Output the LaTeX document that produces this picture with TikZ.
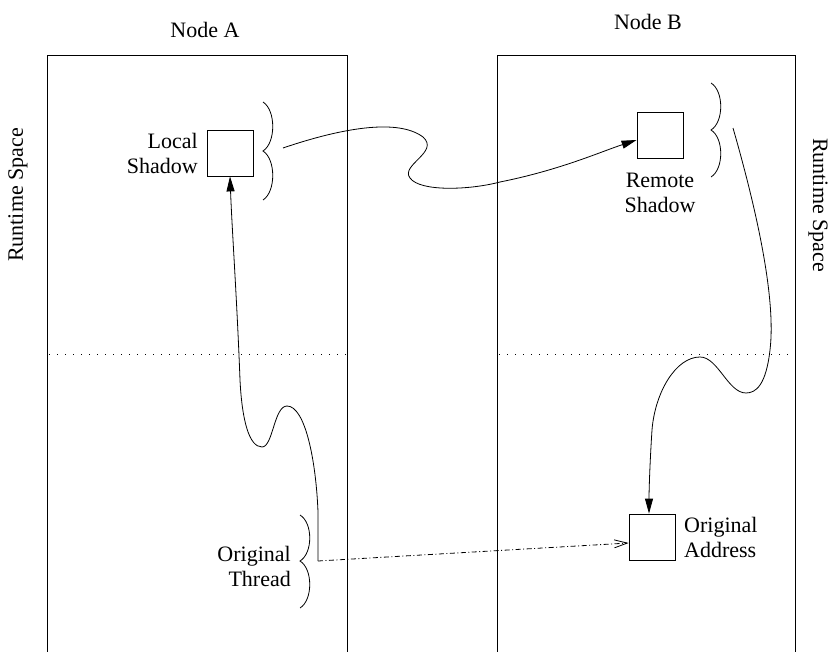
\documentclass[tikz,border=0pt]{standalone}
\usepackage{fontspec}
\setmainfont{Liberation Serif}
\usetikzlibrary{arrows.meta}
\begin{document}
\begin{tikzpicture}[x=1pt,y=-1pt,
  every node/.style={font=\rmfamily\fontsize{22}{25}\selectfont},
  frame/.style={line width=0.8pt},
  sqbox/.style={draw,line width=0.8pt,minimum width=46pt,minimum height=46pt,inner sep=0pt},
  lbl/.style={align=right,inner sep=0pt},
  bracestyle/.style={line width=0.8pt},
  sep/.style={line width=0.9pt,dash pattern=on 1pt off 7pt},
  link/.style={line width=0.8pt,-{Triangle[length=15pt,width=8pt]}},
  dlink/.style={line width=0.8pt,dash pattern=on 5pt off 2.5pt on 1pt off 2.5pt,-{Straight Barb[length=13pt,width=8pt]}}
]
\useasboundingbox (0,0) rectangle (835,652);
% frames
\draw[frame] (47,660) -- (47,55) -- (347,55) -- (347,660);
\draw[frame] (497,660) -- (497,55) -- (795,55) -- (795,660);
\draw[sep] (49,354) -- (346,354);
\draw[sep] (499,354) -- (794,354);
% titles
\node (na) at (205,30) {Node A};
\node (nb) at (648,22) {Node B};
\node[rotate=90] (rsl) at (18,195) {Runtime Space};
\node[rotate=-90] (rsr) at (818,205) {Runtime Space};
% boxes
\node[sqbox] (ls) at (230,153) {};
\node[sqbox] (rs) at (660,135) {};
\node[sqbox] (oa) at (652,537) {};
% labels
\node[lbl,anchor=east] (lsl) at (198,153) {Local\\Shadow};
\node[align=center,inner sep=0pt] (rsl2) at (660,193) {Remote\\Shadow};
\node[align=left,inner sep=0pt,anchor=west] (oal) at (684,537) {Original\\Address};
\node[lbl,anchor=east] (otl) at (291,566) {Original\\Thread};
% braces
\newcommand\mybrace[4]{% x0, ytop, ymid, ybot
  \draw[bracestyle] (#1,#2) .. controls (#1+13,#2+0.17*#3-0.17*#2) and (#1+13,#3-0.17*#3+0.17*#2) .. (#1,#3)
     .. controls (#1+13,#3+0.17*#4-0.17*#3) and (#1+13,#4-0.17*#4+0.17*#3) .. (#1,#4);}
\mybrace{263}{102}{151}{200}
\mybrace{711}{83}{130}{177}
\mybrace{300}{515}{561}{608}
% connector end points
\coordinate (s1) at (283,148);
\coordinate (s3) at (733,128);
\coordinate (ot) at (318,561);
% connectors
\draw[link] (s1) .. controls (330,132) and (395,116) .. (423,137)
  .. controls (440,152) and (400,165) .. (410,178)
  .. controls (420,192) and (470,190) .. (500,182)
  .. controls (560,170) and (600,152) .. (rs.west |- 0,140);
\draw[link] (ot) -- (318,512) .. controls (316,460) and (305,406) .. (287,406)
  .. controls (274,406) and (273,447) .. (262,447)
  .. controls (249,447) and (242,420) .. (240,380)
  .. controls (237,300) and (232,230) .. (ls.south);
\draw[link] (s3) .. controls (758,215) and (776,300) .. (770,350)
  .. controls (766,385) and (756,393) .. (746,393)
  .. controls (728,393) and (718,357) .. (700,357)
  .. controls (676,357) and (655,392) .. (652,430)
  .. controls (650,460) and (649,490) .. (oa.north -| 649,0);
\draw[dlink] (ot) -- (oa.west |- 0,543);
\end{tikzpicture}
\end{document}
